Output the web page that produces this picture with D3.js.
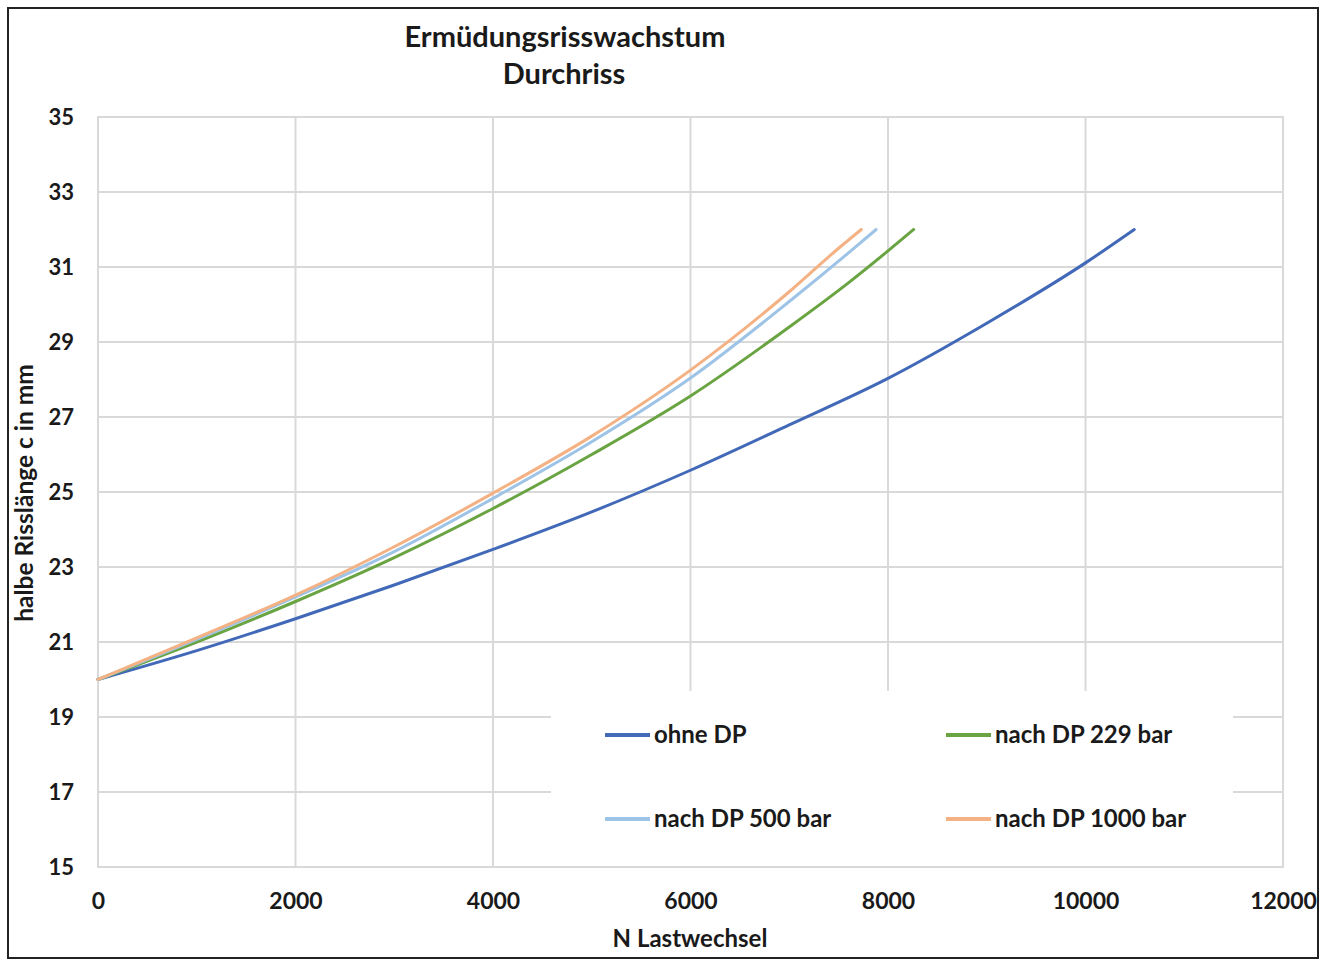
<!DOCTYPE html>
<html><head><meta charset="utf-8">
<script src="https://cdn.jsdelivr.net/npm/d3@7"></script>
<style>
html,body{margin:0;padding:0;background:#fff;}
svg text{font-family:Lato,"Open Sans",sans-serif;fill:#1a1a1a;}
</style></head>
<body>
<svg id="chart" width="1333" height="960"></svg>
<script>
const titleLines = ["Ermüdungsrisswachstum", "Durchriss"];
const xLabel = "N Lastwechsel";
const yLabel = "halbe Risslänge c in mm";
const xTicks = [0, 2000, 4000, 6000, 8000, 10000, 12000];
const yTicks = [15, 17, 19, 21, 23, 25, 27, 29, 31, 33, 35];
const seriesNames = ["ohne DP", "nach DP 229 bar", "nach DP 500 bar", "nach DP 1000 bar"];
const seriesColors = ["#4169B8", "#6AA442", "#9DC3E6", "#F4B183"];

const nOhne = [0, 1000, 2000, 3000, 4000, 5000, 6000, 7000, 8000, 9000, 10000, 10494];
const cOhne = [20, 20.77, 21.62, 22.52, 23.47, 24.47, 25.58, 26.79, 28.03, 29.5, 31.11, 32];
const n229 = [0, 1000, 2000, 3000, 4000, 5000, 6000, 7000, 7615, 8000, 8260];
const c229 = [20, 21.0, 22.08, 23.25, 24.56, 26.0, 27.56, 29.4, 30.61, 31.43, 32];
const n500 = [0, 1000, 2000, 3000, 4000, 5000, 6000, 7000, 7615, 7880];
const c500 = [20, 21.07, 22.2, 23.41, 24.83, 26.34, 28.04, 30.08, 31.41, 32];
const n1000 = [0, 1000, 2000, 3000, 4000, 5000, 6000, 7000, 7500, 7730];
const c1000 = [20, 21.11, 22.25, 23.54, 24.97, 26.49, 28.25, 30.34, 31.5, 32];

const seriesN = [nOhne, n229, n500, n1000];
const seriesC = [cOhne, c229, c500, c1000];

const svg = d3.select("#chart");
const L = 98, R = 1283, T = 117, B = 867;
const x = d3.scaleLinear().domain([0, 12000]).range([L, R]);
const y = d3.scaleLinear().domain([15, 35]).range([B, T]);

// outer border
svg.append("rect").attr("x", 8).attr("y", 8).attr("width", 1310).attr("height", 950)
  .attr("fill", "#fff").attr("stroke", "#222").attr("stroke-width", 2);

// gridlines
const grid = svg.append("g");
grid.selectAll("line.h").data(yTicks).join("line")
  .attr("x1", L).attr("x2", R).attr("y1", d => y(d)).attr("y2", d => y(d))
  .attr("stroke", "#d9d9d9").attr("stroke-width", 2);
grid.selectAll("line.v").data(xTicks).join("line")
  .attr("x1", d => x(d)).attr("x2", d => x(d)).attr("y1", T).attr("y2", B)
  .attr("stroke", "#d9d9d9").attr("stroke-width", 2);

// legend background
svg.append("rect").attr("x", 551).attr("y", 691).attr("width", 682).attr("height", 175).attr("fill", "#fff");

// plot border
svg.append("rect").attr("x", L).attr("y", T).attr("width", R - L).attr("height", B - T)
  .attr("fill", "none").attr("stroke", "#d9d9d9").attr("stroke-width", 2);

// axes labels via d3 axes
const xAxis = d3.axisBottom(x).tickValues(xTicks).tickSize(0).tickPadding(0).tickFormat(d3.format("d"));
const gx = svg.append("g").attr("transform", `translate(0,${B + 34})`).call(xAxis);
gx.select(".domain").remove();
gx.selectAll("text").attr("font-size", 23).attr("font-weight", 700).attr("fill", "#1a1a1a")
  .attr("dy", "0.35em").attr("font-family", "Lato, sans-serif");

const yAxis = d3.axisLeft(y).tickValues(yTicks).tickSize(0).tickPadding(0);
const gy = svg.append("g").attr("transform", `translate(74,0)`).call(yAxis);
gy.select(".domain").remove();
gy.selectAll("text").attr("font-size", 22).attr("font-weight", 700).attr("fill", "#1a1a1a")
  .attr("font-family", "Lato, sans-serif");

// lines
const line = d3.line().x(d => x(d[0])).y(d => y(d[1])).curve(d3.curveMonotoneX);
seriesN.forEach((ns, i) => {
  const pts = ns.map((n, j) => [n, seriesC[i][j]]);
  svg.append("path").datum(pts).attr("d", line).attr("fill", "none")
    .attr("stroke", seriesColors[i]).attr("stroke-width", 3).attr("stroke-linecap", "round");
});

// title
svg.append("text").attr("x", 565).attr("y", 47).attr("text-anchor", "middle")
  .attr("font-size", 29).attr("font-weight", 700).text(titleLines[0]);
svg.append("text").attr("x", 564).attr("y", 84).attr("text-anchor", "middle")
  .attr("font-size", 29).attr("font-weight", 700).text(titleLines[1]);

// axis titles
svg.append("text").attr("x", 690).attr("y", 947).attr("text-anchor", "middle")
  .attr("font-size", 24).attr("font-weight", 700).text(xLabel);
svg.append("text").attr("transform", "translate(33,493) rotate(-90)").attr("text-anchor", "middle")
  .attr("font-size", 24.5).attr("font-weight", 700).text(yLabel);

// legend
const legPos = [[605, 735], [946, 735], [605, 819], [946, 819]];
seriesNames.forEach((name, i) => {
  const [lx, ly] = legPos[i];
  svg.append("line").attr("x1", lx).attr("x2", lx + 45).attr("y1", ly).attr("y2", ly)
    .attr("stroke", seriesColors[i]).attr("stroke-width", 4);
  svg.append("text").attr("x", lx + 49).attr("y", ly + 8).attr("font-size", 24)
    .attr("font-weight", 700).text(name);
});
</script>
</body></html>
